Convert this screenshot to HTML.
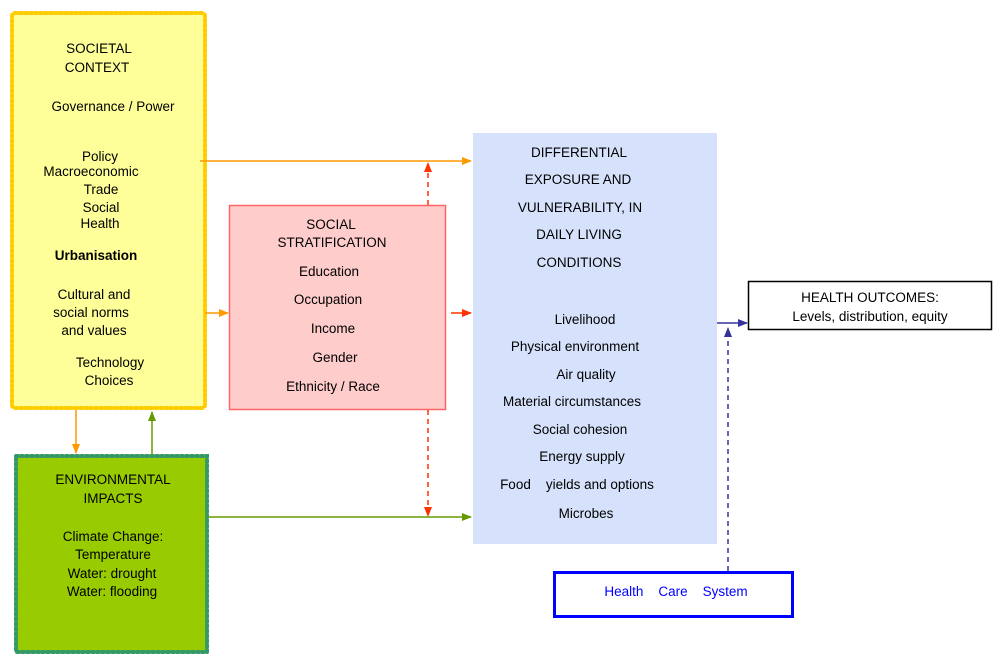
<!DOCTYPE html>
<html><head><meta charset="utf-8"><style>
html,body{margin:0;padding:0;background:#fff;}
svg{display:block;font-family:"Liberation Sans",sans-serif;}
</style></head><body>
<svg width="1000" height="660" viewBox="0 0 1000 660" xmlns="http://www.w3.org/2000/svg">
<defs>
<marker id="ao" markerWidth="10" markerHeight="8" refX="9" refY="4" orient="auto" markerUnits="userSpaceOnUse"><path d="M0,0 L10,4 L0,8 z" fill="#ff9900"/></marker>
<marker id="ar" markerWidth="10" markerHeight="8" refX="9" refY="4" orient="auto" markerUnits="userSpaceOnUse"><path d="M0,0 L10,4 L0,8 z" fill="#ff3300"/></marker>
<marker id="ag" markerWidth="10" markerHeight="8" refX="9" refY="4" orient="auto" markerUnits="userSpaceOnUse"><path d="M0,0 L10,4 L0,8 z" fill="#669900"/></marker>
<marker id="ab" markerWidth="10" markerHeight="8" refX="9" refY="4" orient="auto" markerUnits="userSpaceOnUse"><path d="M0,0 L10,4 L0,8 z" fill="#333399"/></marker>
</defs>
<!-- boxes -->
<rect x="12" y="13" width="193" height="395" fill="#ffff99" stroke="#ffcc00" stroke-width="4" stroke-dasharray="2,3" stroke-linecap="round" rx="3"/>
<rect x="229.5" y="205.5" width="216" height="204" fill="#ffcccc" stroke="#ff6666" stroke-width="1.5"/>
<rect x="473" y="133" width="244" height="411" fill="#d6e2fb"/>
<rect x="16" y="456" width="191" height="196" fill="#99cc00" stroke="#339966" stroke-width="4" stroke-dasharray="2,3" stroke-linecap="round"/>
<rect x="748.5" y="281.5" width="243" height="48" fill="#fff" stroke="#000" stroke-width="1.5"/>
<rect x="554.5" y="572.5" width="238" height="44" fill="#fff" stroke="#0000ff" stroke-width="3"/>
<!-- connectors -->
<line x1="200" y1="161" x2="471" y2="161" stroke="#ff9900" stroke-width="1.5" marker-end="url(#ao)"/>
<line x1="428" y1="205" x2="428" y2="163" stroke="#ff3300" stroke-width="1.5" stroke-dasharray="5,4" marker-end="url(#ar)"/>
<line x1="205" y1="313" x2="228" y2="313" stroke="#ff9900" stroke-width="1.5" marker-end="url(#ao)"/>
<line x1="451" y1="313" x2="471" y2="313" stroke="#ff3300" stroke-width="1.5" marker-end="url(#ar)"/>
<line x1="428" y1="410" x2="428" y2="516" stroke="#ff3300" stroke-width="1.5" stroke-dasharray="5,4" marker-end="url(#ar)"/>
<line x1="207" y1="517" x2="471" y2="517" stroke="#669900" stroke-width="1.5" marker-end="url(#ag)"/>
<line x1="76" y1="410" x2="76" y2="453" stroke="#ff9900" stroke-width="1.5" marker-end="url(#ao)"/>
<line x1="152" y1="455" x2="152" y2="412" stroke="#669900" stroke-width="1.5" marker-end="url(#ag)"/>
<line x1="717" y1="323" x2="747" y2="323" stroke="#333399" stroke-width="1.5" marker-end="url(#ab)"/>
<line x1="728" y1="571" x2="728" y2="328" stroke="#333399" stroke-width="1.5" stroke-dasharray="5,4" marker-end="url(#ab)"/>
<!-- yellow text -->
<g font-size="13.5" fill="#000" text-anchor="middle">
<text x="99" y="53">SOCIETAL</text>
<text x="97" y="72">CONTEXT</text>
<text x="113" y="111">Governance / Power</text>
<text x="100" y="161">Policy</text>
<text x="91" y="176">Macroeconomic</text>
<text x="101" y="194">Trade</text>
<text x="101" y="212">Social</text>
<text x="100" y="228">Health</text>
<text x="96" y="260" font-weight="bold">Urbanisation</text>
<text x="94" y="299">Cultural and</text>
<text x="91" y="317">social norms</text>
<text x="94" y="335">and values</text>
<text x="110" y="367">Technology</text>
<text x="109" y="385">Choices</text>
<!-- pink -->
<text x="331" y="229">SOCIAL</text>
<text x="332" y="247">STRATIFICATION</text>
<text x="329" y="276">Education</text>
<text x="328" y="304">Occupation</text>
<text x="333" y="333">Income</text>
<text x="335" y="362">Gender</text>
<text x="333" y="391">Ethnicity / Race</text>
<!-- green -->
<text x="113" y="484">ENVIRONMENTAL</text>
<text x="113" y="503">IMPACTS</text>
<text x="113" y="541">Climate Change:</text>
<text x="113" y="559">Temperature</text>
<text x="112" y="578">Water: drought</text>
<text x="112" y="596">Water: flooding</text>
<!-- blue -->
<text x="579" y="157">DIFFERENTIAL</text>
<text x="578" y="184">EXPOSURE AND</text>
<text x="580" y="212">VULNERABILITY, IN</text>
<text x="579" y="239">DAILY LIVING</text>
<text x="579" y="267">CONDITIONS</text>
<text x="585" y="324">Livelihood</text>
<text x="575" y="351">Physical environment</text>
<text x="586" y="379">Air quality</text>
<text x="572" y="406">Material circumstances</text>
<text x="580" y="434">Social cohesion</text>
<text x="582" y="461">Energy supply</text>
<text x="577" y="489">Food&#160;&#160;&#160; yields and options</text>
<text x="586" y="518">Microbes</text>
<!-- health outcomes -->
<text x="870" y="302">HEALTH OUTCOMES:</text>
<text x="870" y="321">Levels, distribution, equity</text>
</g>
<text x="676" y="596" font-size="13.5" fill="#0000ff" text-anchor="middle" xml:space="preserve">Health    Care    System</text>
</svg>
</body></html>
